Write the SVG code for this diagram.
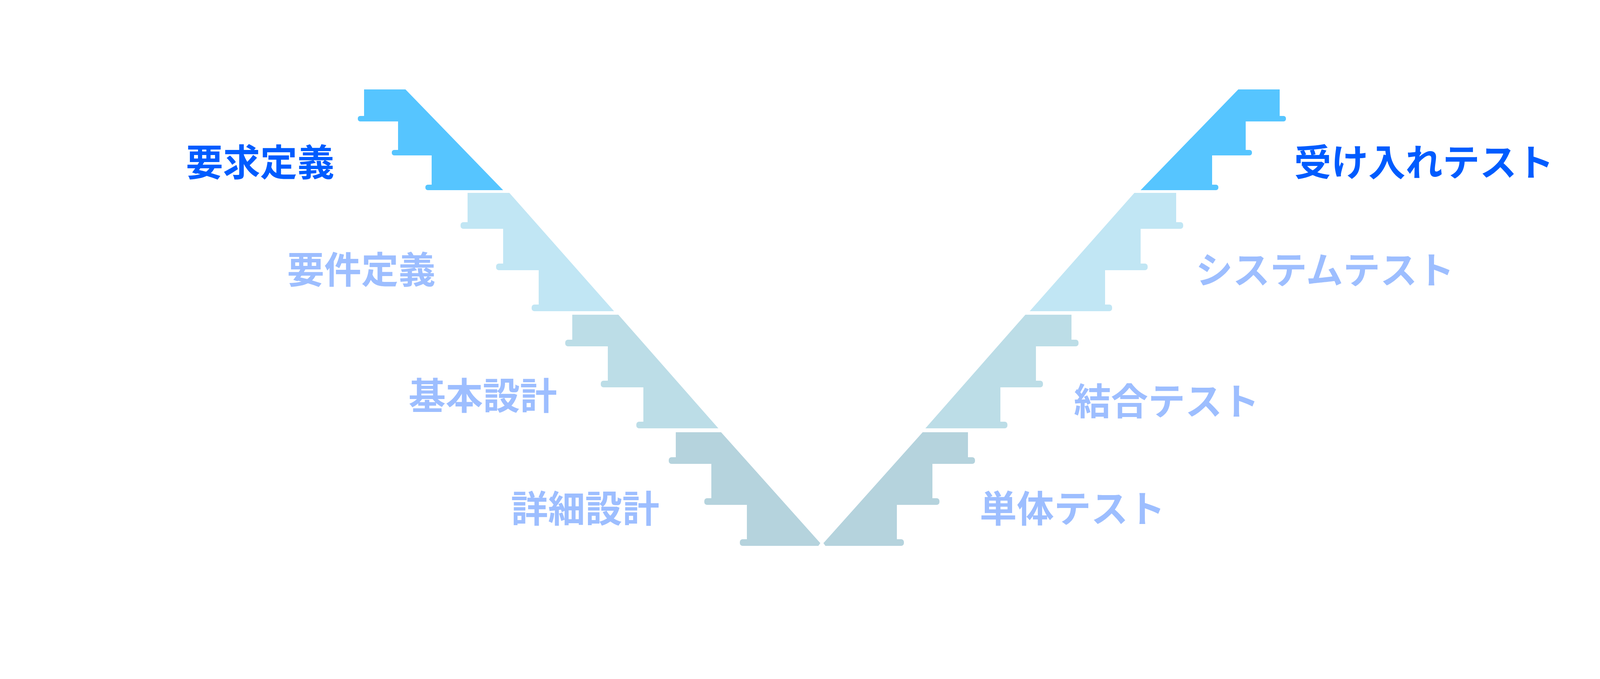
<svg xmlns="http://www.w3.org/2000/svg" width="4271" height="1739" viewBox="0 0 4271 1739">
  <style>
    .lbl { font-family: "Noto Sans CJK JP", "Noto Sans", sans-serif; font-size: 95px; font-weight: 700; }
    .hi { fill: #005CFF; }
    .lo { fill: #9DBEFF; }
    .s1 { fill: #56C5FF; }
    .s2 { fill: #C1E6F4; }
    .s3 { fill: #BCDDE7; }
    .s4 { fill: #B5D3DD; }
  </style>
  <defs>
    <path id="step1" d="M932,229 H1038 L1288,487 H1095 A6,6 0 0 1 1089,481 V479 A6,6 0 0 1 1095,473 H1105 V398 H1009 A6,6 0 0 1 1003,392 V390 A6,6 0 0 1 1009,384 H1019 V311 H922 A6,6 0 0 1 916,305 V303 A6,6 0 0 1 922,297 H932 Z"/>
    <path id="step2" d="M1197,494 H1304 L1572,797 H1368 A7,7 0 0 1 1361,790 V787 A7,7 0 0 1 1368,780 H1379 V692 H1277 A7,7 0 0 1 1270,685 V682 A7,7 0 0 1 1277,675 H1288 V586 H1186 A7,7 0 0 1 1179,579 V576 A7,7 0 0 1 1186,569 H1197 Z"/>
    <path id="step3" d="M1465,806 H1583 L1839,1097 H1636 A7,7 0 0 1 1629,1090 V1087 A7,7 0 0 1 1636,1080 H1647 V992 H1545 A7,7 0 0 1 1538,985 V982 A7,7 0 0 1 1545,975 H1556 V887 H1454 A7,7 0 0 1 1447,880 V877 A7,7 0 0 1 1454,870 H1465 Z"/>
    <path id="step4" d="M1730,1107 H1846 L2100,1391 L2095,1398 H1901 A7,7 0 0 1 1894,1391 V1388 A7,7 0 0 1 1901,1381 H1912 V1293 H1810 A7,7 0 0 1 1803,1286 V1283 A7,7 0 0 1 1810,1276 H1821 V1188 H1719 A7,7 0 0 1 1712,1181 V1178 A7,7 0 0 1 1719,1171 H1730 Z"/>
  </defs>
  <rect width="4271" height="1739" fill="#FFFFFF"/>

  <g id="left-requirements">
    <use href="#step1" class="s1"/>
    <text class="lbl hi" x="476" y="451">要求定義</text>
  </g>
  <g id="left-specification">
    <use href="#step2" class="s2"/>
    <text class="lbl lo" x="735" y="726">要件定義</text>
  </g>
  <g id="left-basic-design">
    <use href="#step3" class="s3"/>
    <text class="lbl lo" x="1046" y="1049">基本設計</text>
  </g>
  <g id="left-detailed-design">
    <use href="#step4" class="s4"/>
    <text class="lbl lo" x="1308" y="1338">詳細設計</text>
  </g>

  <g id="right-acceptance-test">
    <use href="#step1" class="s1" transform="translate(4208,0) scale(-1,1)"/>
    <text class="lbl hi" x="3313" y="451">受け入れテスト</text>
  </g>
  <g id="right-system-test">
    <use href="#step2" class="s2" transform="translate(4208,0) scale(-1,1)"/>
    <text class="lbl lo" x="3061" y="727">システムテスト</text>
  </g>
  <g id="right-integration-test">
    <use href="#step3" class="s3" transform="translate(4208,0) scale(-1,1)"/>
    <text class="lbl lo" x="2749" y="1063">結合テスト</text>
  </g>
  <g id="right-unit-test">
    <use href="#step4" class="s4" transform="translate(4208,0) scale(-1,1)"/>
    <text class="lbl lo" x="2508" y="1338">単体テスト</text>
  </g>

  <g id="connectors"></g>
</svg>
